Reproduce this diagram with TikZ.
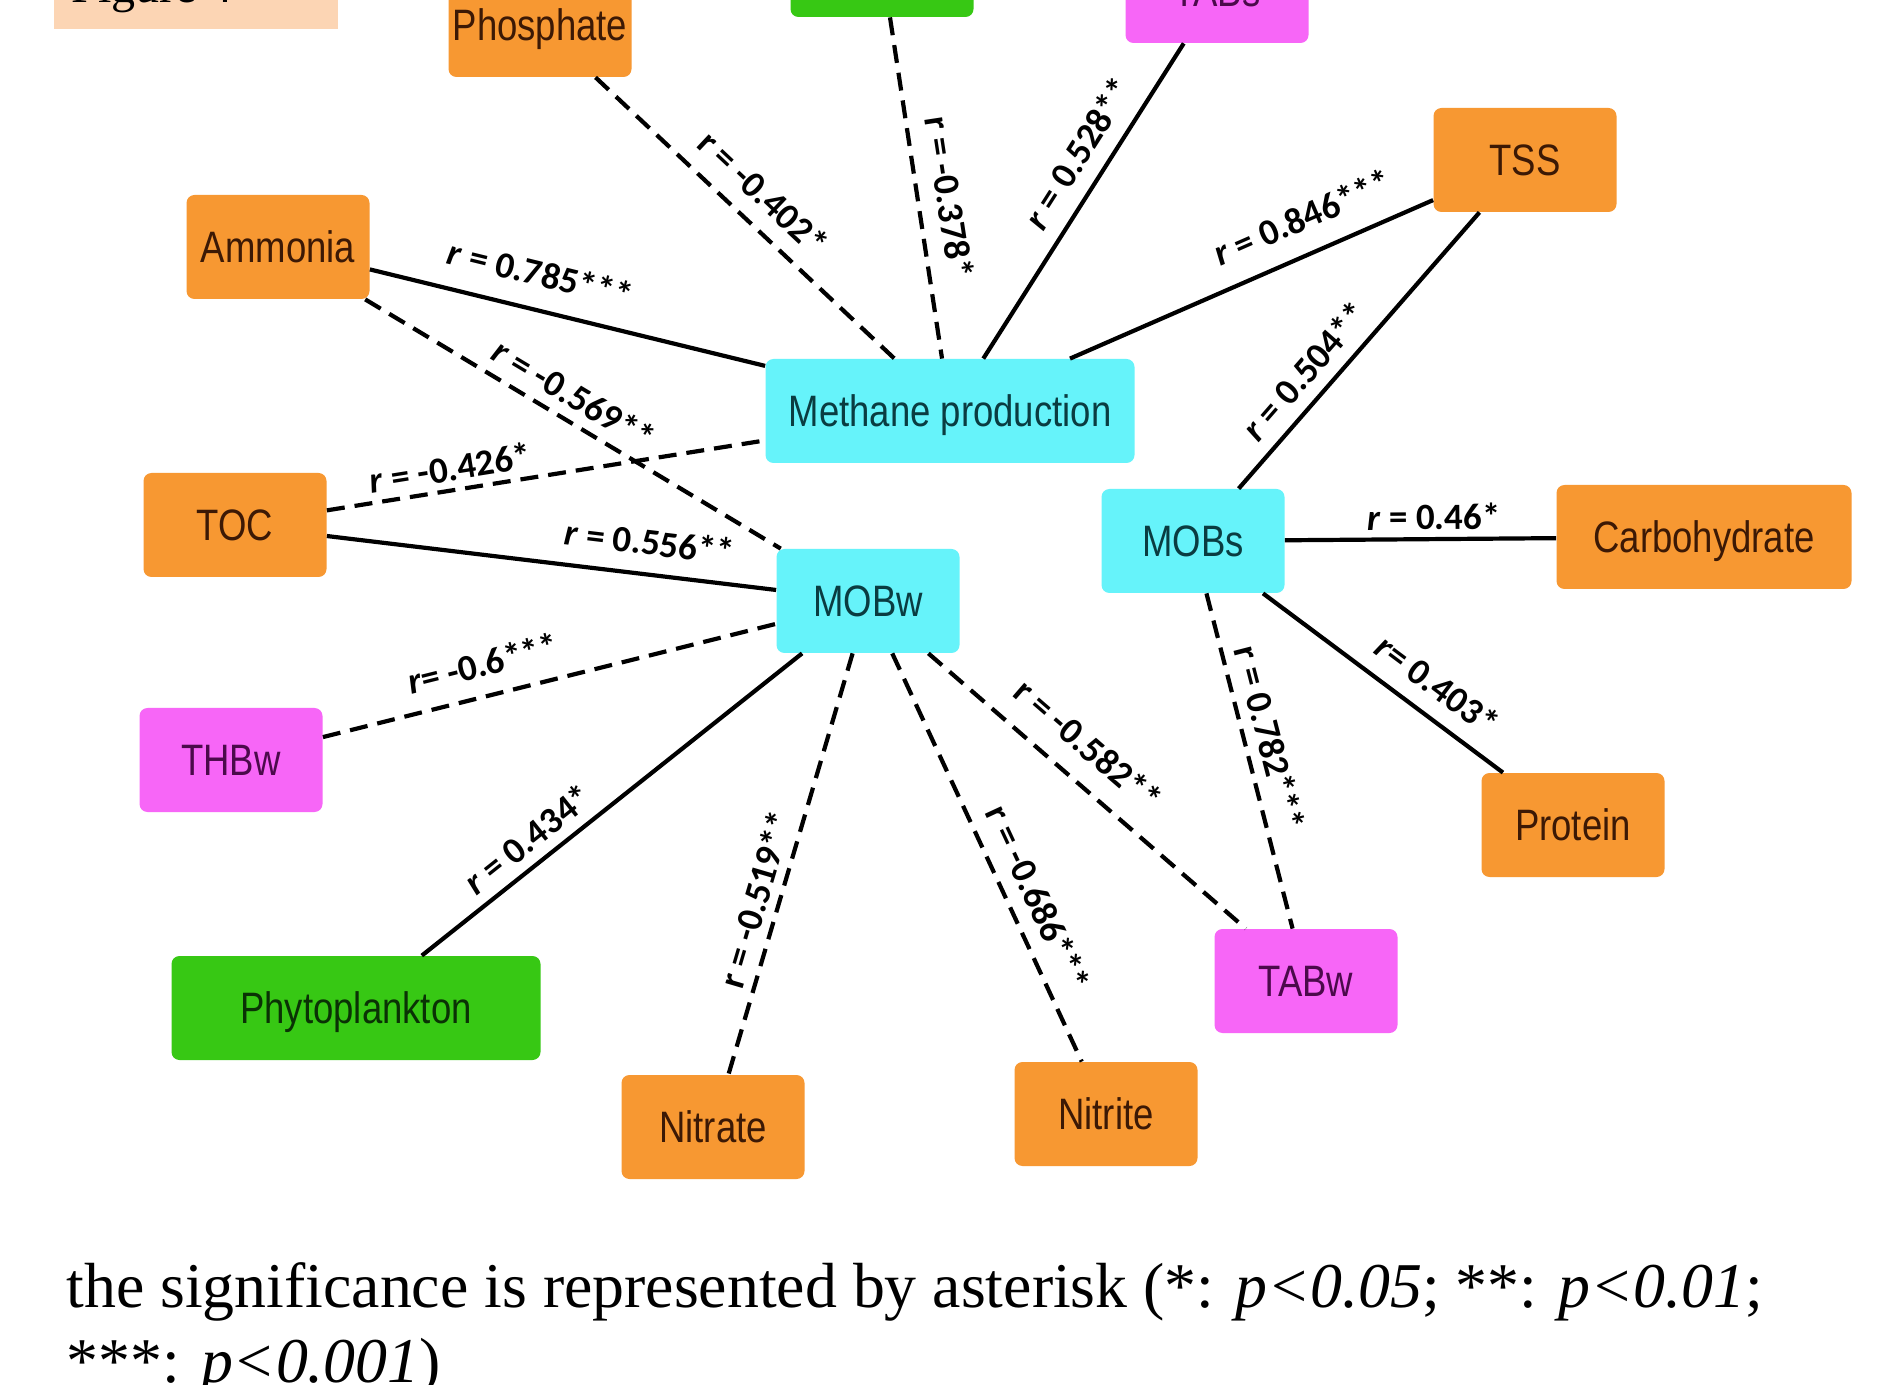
\documentclass[tikz,border=0pt]{standalone}
\usepackage{fontspec}
\setmainfont{Liberation Serif}
\newfontfamily\nodefont[FakeStretch=0.83]{Liberation Sans}
\newfontfamily\labfont{Carlito}
\definecolor{orfill}{RGB}{247,152,50}
\definecolor{ortext}{RGB}{60,25,5}
\definecolor{cyfill}{RGB}{102,243,250}
\definecolor{cytext}{RGB}{10,60,65}
\definecolor{pkfill}{RGB}{247,102,247}
\definecolor{pktext}{RGB}{75,10,75}
\definecolor{grfill}{RGB}{55,200,20}
\definecolor{grtext}{RGB}{10,50,5}
\definecolor{peach}{RGB}{252,213,180}
\tikzset{
  box/.style={rectangle, rounded corners=4pt, minimum height=52pt, minimum width=91.5pt,
    inner sep=0pt, text height=15.8pt, text depth=0pt,
    font=\nodefont\fontsize{22pt}{26pt}\selectfont},
  orbox/.style={box, fill=orfill, text=ortext},
  cybox/.style={box, fill=cyfill, text=cytext},
  pkbox/.style={box, fill=pkfill, text=pktext},
  grbox/.style={box, fill=grfill, text=grtext},
  link/.style={line width=2.1pt, black},
  dlink/.style={link, dash pattern=on 9pt off 5pt},
  lab/.style={sloped, inner sep=0pt, outer sep=0pt, text height=11.4pt, text depth=0pt,
    font=\labfont\bfseries\fontsize{18.5pt}{20pt}\selectfont, text=black},
  captext/.style={anchor=base west, inner sep=0pt, font=\fontsize{31.9pt}{37.5pt}\selectfont}
}
\begin{document}
\begin{tikzpicture}[x=0.5pt,y=-0.5pt]
\useasboundingbox (0,0) rectangle (1892,1385);
\clip (0,0) rectangle (1892,1385);
\fill[white] (0,0) rectangle (1892,1385);
% figure tag
\fill[peach] (54,-20) rectangle (338,29);
\node[anchor=base west, inner sep=0pt, font=\fontsize{24pt}{28pt}\selectfont] (figtag) at (71,3) {Figure 4};
% nodes
\node[orbox] (phos) at (540,25) {Phosphate};
\node[grbox] (green) at (882,-35) {};
\node[pkbox] (tabs) at (1217,-9) {TABs};
\node[orbox] (tss) at (1525,160) {TSS};
\node[orbox] (amm) at (278,247) {Ammonia};
\node[cybox, minimum width=184.5pt] (meth) at (950,411) {Methane production};
\node[orbox] (toc) at (235,525) {TOC};
\node[cybox] (mobs) at (1193,541) {MOBs};
\node[orbox, minimum width=147.5pt] (carb) at (1704,537) {Carbohydrate};
\node[cybox] (mobw) at (868,601) {MOBw};
\node[pkbox] (thbw) at (231,760) {THBw};
\node[orbox] (prot) at (1573,825) {Protein};
\node[grbox, minimum width=184.5pt] (phyto) at (356,1008) {Phytoplankton};
\node[pkbox] (tabw) at (1306,981) {TABw};
\node[orbox] (nitra) at (713,1127) {Nitrate};
\node[orbox] (nitri) at (1106,1114) {Nitrite};
% connectors
\draw[dlink] (phos) -- node[lab, pos=0.49, above=9pt] {r = -0.402*} (meth);
\draw[dlink] (green) -- node[lab, pos=0.54, above=9.5pt] {r = -0.378*} (meth);
\draw[link] (tabs) -- node[lab, pos=0.40, above=8.7pt] {\textit{r} = 0.528**} (meth);
\draw[link] (tss) -- node[lab, pos=0.32, above=11.8pt] {\textit{r} = 0.846***} (meth);
\draw[link] (amm) -- node[lab, pos=0.41, above=11.8pt] {\textit{r} = 0.785***} (meth);
\draw[dlink] (amm) -- node[lab, pos=0.47, above=6.3pt] {\textit{r} = -0.569**} (mobw);
\draw[dlink] (toc) -- node[lab, pos=0.29, above=4.8pt] {\textit{r} = -0.426*} (meth);
\draw[link] (toc) -- node[lab, pos=0.71, above=9.8pt] {\textit{r} = 0.556**} (mobw);
\draw[link] (tss) -- node[lab, pos=0.64, above=7.3pt] {\textit{r} = 0.504**} (mobs);
\draw[link] (mobs) -- node[lab, pos=0.55, above=4.8pt] {\textit{r} = 0.46*} (carb);
\draw[link] (mobs) -- node[lab, pos=0.65, above=9.3pt] {\textit{r}= 0.403*} (prot);
\draw[dlink] (mobs) -- node[lab, pos=0.45, above=6.3pt] {r = 0.782***} (tabw);
\draw[dlink] (thbw) -- node[lab, pos=0.37, above=9.8pt] {\textit{r}= -0.6***} (mobw);
\draw[link] (phyto) -- node[lab, pos=0.32, above=6.3pt] {\textit{r} = 0.434*} (mobw);
\draw[dlink] (mobw) -- node[lab, pos=0.60, above=5.3pt] {r = -0.519**} (nitra);
\draw[dlink] (mobw) -- node[lab, pos=0.63, above=8.3pt] {r = -0.686***} (nitri);
\draw[dlink] (mobw) -- node[lab, pos=0.43, above=11.3pt] {r = -0.582**} (tabw);
% caption
\node[captext] (cap1) at (66,1307) {the significance is represented by asterisk (*: \textit{p<0.05}; **: \textit{p<0.01};};
\node[captext] (cap2) at (66,1382) {***: \textit{p<0.001})};
\end{tikzpicture}
\end{document}
